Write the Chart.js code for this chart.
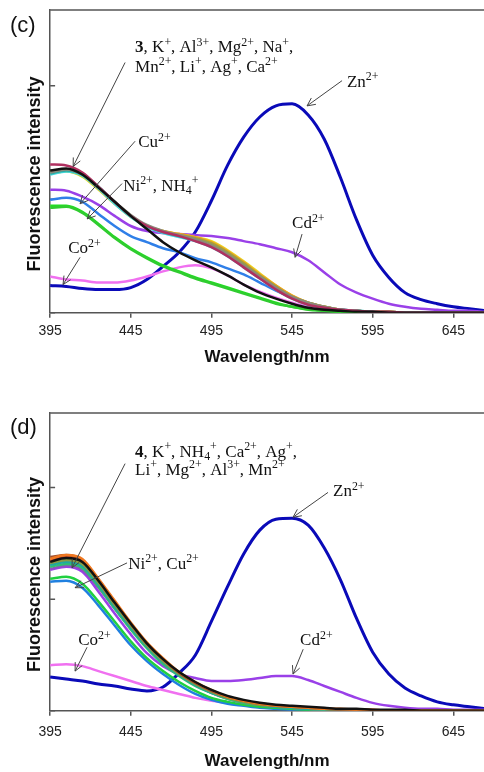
<!DOCTYPE html>
<html>
<head>
<meta charset="utf-8">
<script src="https://cdn.jsdelivr.net/npm/chart.js@4.4.1/dist/chart.umd.min.js"></script>
<style>
  html, body { margin:0; padding:0; background:#fff; overflow:hidden; }
  .panel { position:absolute; left:0; width:484px; }
</style>
</head>
<body>
<div class="panel" style="top:0;height:380px"><canvas id="chartC" width="484" height="380"></canvas></div>
<div class="panel" style="top:380px;height:400px"><canvas id="chartD" width="484" height="400"></canvas></div>
<script>
'use strict';

// wavelength (nm) for every sample, both panels
let wavelengths = [395,405,415,425,435,445,455,465,475,485,495,505,515,525,535,545,555,565,575,585,595,605,615,625,635,645,655,665];
let x_ticks = [395,445,495,545,595,645];

// panel (c), intensity in arbitrary units
let c_3   = [141,143,137,124,110,96,83,70,60,52,45,37,28,20,14,9,5,3,2,1,1,0,0,0,0,0,0,0];
let c_k   = [147,146,139,125,110,96,86,80,76,71,65,56,45,34,23,14,8,5,3,2,1,1,0,0,0,0,0,0];
let c_al  = [139,142,137,124,110,97,87,81,77,73,67,58,47,36,25,16,10,6,3,2,1,1,0,0,0,0,0,0];
let c_mg  = [138,141,137,125,110,96,86,80,76,72,66,57,46,35,24,15,9,5,3,2,1,0,0,0,0,0,0,0];
let c_na  = [137,140,136,123,108,95,85,79,75,71,65,56,45,34,23,14,8,5,3,2,1,0,0,0,0,0,0,0];
let c_mn  = [140,142,137,124,109,96,86,80,77,74,69,60,49,37,26,16,10,6,3,2,1,1,0,0,0,0,0,0];
let c_li  = [139,141,136,123,109,96,86,81,78,75,70,61,50,38,27,17,10,6,3,2,1,1,0,0,0,0,0,0];
let c_ag  = [138,140,135,122,108,95,86,81,78,75,71,62,51,39,27,17,10,6,3,2,1,1,0,0,0,0,0,0];
let c_ca  = [140,142,137,124,110,96,86,80,76,72,66,57,46,35,24,15,9,5,3,2,1,1,0,0,0,0,0,0];
let c_nh4 = [104,105,99,87,74,63,54,46,40,34,29,24,19,14,9,6,3,2,1,0,0,0,0,0,0,0,0,0];
let c_ni  = [106,106,100,88,75,64,55,47,41,35,30,25,20,15,10,6,4,2,1,1,0,0,0,0,0,0,0,0];
let c_cu  = [112,114,110,98,86,76,70,64,60,54,50,44,38,30,22,15,9,6,3,2,1,1,0,0,0,0,0,0];
let c_co  = [36,33,32,30,30,32,36,41,45,47,44,37,28,21,15,10,6,4,3,2,1,1,0,0,0,0,0,0];
let c_cd  = [122,121,115,107,96,86,81,79,78,77,76,74,71,68,64,60,52,40,28,20,14,9,6,4,3,2,2,1];
let c_zn  = [27,26,24,23,23,25,33,46,60,80,111,146,174,194,205,207,196,172,134,92,57,35,20,13,9,6,4,2];

// panel (d)
let d_4   = [150,154,150,131,109,88,68,52,39,29,21,15,11,8,6,5,4,3,2,2,1,1,1,0,0,0,0,0];
let d_k   = [153,157,153,133,111,89,69,53,39,29,21,14,10,7,5,4,3,2,2,1,1,0,0,0,0,0,0,0];
let d_nh4 = [155,157,152,132,110,88,68,52,38,28,20,14,10,7,5,4,3,2,1,1,1,0,0,0,0,0,0,0];
let d_ca  = [149,152,148,129,107,86,66,50,37,27,19,13,9,6,5,4,3,2,1,1,0,0,0,0,0,0,0,0];
let d_ag  = [147,150,146,127,105,84,65,49,36,26,18,13,9,6,4,3,2,2,1,1,0,0,0,0,0,0,0,0];
let d_li  = [145,148,144,125,103,82,63,47,35,25,18,12,8,6,4,3,2,1,1,0,0,0,0,0,0,0,0,0];
let d_mg  = [148,151,147,128,106,85,65,50,37,27,19,13,9,6,5,3,2,2,1,1,0,0,0,0,0,0,0,0];
let d_al  = [151,155,151,131,109,87,67,51,38,28,20,14,10,7,5,4,3,2,1,1,0,0,0,0,0,0,0,0];
let d_mn  = [143,146,142,124,103,83,64,48,36,26,18,12,8,6,4,3,2,1,1,0,0,0,0,0,0,0,0,0];
let d_ni  = [133,135,128,110,90,70,53,40,29,20,13,9,6,4,3,2,1,1,0,0,0,0,0,0,0,0,0,0];
let d_cu  = [130,131,124,106,86,66,50,37,26,17,11,7,5,3,2,1,1,0,0,0,0,0,0,0,0,0,0,0];
let d_co  = [46,47,45,40,35,30,25,21,17,13,10,8,6,4,3,2,2,1,1,0,0,0,0,0,0,0,0,0];
let d_cd  = [142,145,140,120,98,77,58,45,37,33,30,30,31,33,35,35,31,25,19,13,8,5,3,2,2,1,1,1];
let d_zn  = [34,32,30,27,25,22,20,24,38,56,90,125,158,182,193,194,187,164,132,93,59,37,23,15,9,6,4,2];

// labels and arrows, in wavelength / intensity units
let c_notes = [
  {text:'*3*, K^{+}, Al^{3+}, Mg^{2+}, Na^{+},', x:447.7, y:258},
  {text:'Mn^{2+}, Li^{+}, Ag^{+}, Ca^{2+}', x:447.7, y:239},
  {text:'Zn^{2+}', x:579, y:224},
  {text:'Cu^{2+}', x:449.6, y:164},
  {text:'Ni^{2+}, NH_{4}^{+}', x:440.3, y:121},
  {text:'Cd^{2+}', x:545, y:84},
  {text:'Co^{2+}', x:406.2, y:59}
];
let c_arrows = [[441.5,248,409.3,145],[576,230,554.3,205],[447.7,170,413.6,108],[439.6,128,418,93],[551.2,78,546.9,55],[413.6,55,403,28]];

let d_notes = [
  {text:'*4*, K^{+}, NH_{4}^{+}, Ca^{2+}, Ag^{+},', x:447.7, y:256},
  {text:'Li^{+}, Mg^{2+}, Al^{3+}, Mn^{2+}', x:447.7, y:238},
  {text:'Zn^{2+}', x:570.4, y:216},
  {text:'Ni^{2+}, Cu^{2+}', x:443.4, y:143},
  {text:'Co^{2+}', x:412.4, y:66},
  {text:'Cd^{2+}', x:550, y:66}
];
let d_arrows = [[441.5,249,408.6,144],[567.3,220,545.6,195],[442.7,149,410.5,124],[417.9,64,410.5,40],[551.9,62,545.6,37]];


function line_set(name, vals, color, width){
  return {
    label: name,
    data: wavelengths.map((w, i) => ({x: w, y: vals[i]})),
    borderColor: color,
    borderWidth: width || 2.5,
    pointRadius: 0,
    fill: false,
    cubicInterpolationMode: 'monotone'
  };
}

// draws "Zn^{2+}" style strings, *bold* parts too
function draw_rich(ctx, str, x, y, size){
  let parts = str.split(/(\^\{[^}]*\}|_\{[^}]*\}|\*[^*]*\*)/);
  let cx = x;
  for (let p of parts){
    if (!p) continue;
    let fs = size, dy = 0, weight = 'normal', t = p;
    if (p[0] === '^'){ t = p.slice(2, -1); fs = size * 0.7; dy = -size * 0.38; }
    else if (p[0] === '_'){ t = p.slice(2, -1); fs = size * 0.7; dy = size * 0.22; }
    else if (p[0] === '*'){ t = p.slice(1, -1); weight = 'bold'; }
    ctx.font = weight + ' ' + fs + 'px "Liberation Serif", "Times New Roman", serif';
    ctx.fillText(t, cx, y + dy);
    cx += ctx.measureText(t).width;
  }
}

let frame_plugin = {
  id: 'frame',
  beforeDatasetsDraw(chart){
    let ctx = chart.ctx;
    let a = chart.chartArea;
    let ys = chart.scales.y;
    ctx.save();
    ctx.strokeStyle = '#555';
    ctx.lineWidth = 1.5;
    ctx.beginPath();
    ctx.moveTo(a.left, a.top);
    ctx.lineTo(a.right, a.top);
    for (let t of ys.ticks){
      let py = ys.getPixelForValue(t.value);
      ctx.moveTo(a.left, py);
      ctx.lineTo(a.left + 5, py);
    }
    ctx.stroke();
    ctx.restore();
  },
  afterDraw(chart, args, opts){
    let ctx = chart.ctx;
    let xs = chart.scales.x, ys = chart.scales.y;
    ctx.save();
    ctx.fillStyle = '#111';
    ctx.textBaseline = 'alphabetic';
    ctx.font = '22px "Liberation Sans", Arial, sans-serif';
    ctx.fillText(opts.panel, 10, opts.panel_y);
    for (let n of opts.notes){
      draw_rich(ctx, n.text, xs.getPixelForValue(n.x), ys.getPixelForValue(n.y), 17);
    }
    ctx.strokeStyle = '#444';
    ctx.lineWidth = 1;
    for (let ar of opts.arrows){
      let x1 = xs.getPixelForValue(ar[0]), y1 = ys.getPixelForValue(ar[1]);
      let x2 = xs.getPixelForValue(ar[2]), y2 = ys.getPixelForValue(ar[3]);
      let ang = Math.atan2(y2 - y1, x2 - x1);
      ctx.beginPath();
      ctx.moveTo(x1, y1);
      ctx.lineTo(x2, y2);
      ctx.moveTo(x2 - 9 * Math.cos(ang - 0.45), y2 - 9 * Math.sin(ang - 0.45));
      ctx.lineTo(x2, y2);
      ctx.lineTo(x2 - 9 * Math.cos(ang + 0.45), y2 - 9 * Math.sin(ang + 0.45));
      ctx.stroke();
    }
    ctx.restore();
  }
};

function make_chart(canvas_id, sets, pad_top, pad_bottom, tick_pad, extra){
  let ctx = document.getElementById(canvas_id).getContext('2d');
  return new Chart(ctx, {
    type: 'line',
    data: { datasets: sets },
    plugins: [frame_plugin],
    options: {
      responsive: false,
      animation: false,
      layout: { padding: { left: 20.5, right: 0, top: pad_top, bottom: pad_bottom } },
      plugins: {
        legend: { display: false },
        tooltip: { enabled: false },
        frame: extra
      },
      scales: {
        x: {
          type: 'linear',
          min: 395,
          max: 664,
          afterBuildTicks: (s) => { s.ticks = x_ticks.map(v => ({value: v})); },
          ticks: { font: { family: 'Liberation Sans', size: 14 }, color: '#222', padding: tick_pad, maxRotation: 0, autoSkip: false },
          grid: { display: true, drawOnChartArea: false, drawTicks: true, tickLength: 5, color: '#555', lineWidth: 1.5 },
          border: { display: true, color: '#555', width: 1.5 },
          title: { display: true, text: 'Wavelength/nm', color: '#111', font: { family: 'Liberation Sans', size: 17, weight: 'bold' }, padding: { top: 3, bottom: 2 } }
        },
        y: {
          min: 0,
          max: 300,
          afterBuildTicks: (s) => { s.ticks = [{value: 0}, {value: 112.5}, {value: 225}]; },
          ticks: { display: false },
          grid: { display: false, drawTicks: false },
          border: { display: true, color: '#555', width: 1.5 },
          title: { display: true, text: 'Fluorescence intensity     ', color: '#111', font: { family: 'Liberation Sans', size: 18, weight: 'bold' }, padding: { top: 4, bottom: 4 } }
        }
      }
    }
  });
}

let c_sets = [
  line_set('3', c_3, '#111111'),
  line_set('K+', c_k, '#b03060'),
  line_set('Al3+', c_al, '#8a8a7a'),
  line_set('Mg2+', c_mg, '#2aa8a0'),
  line_set('Na+', c_na, '#40d8e0'),
  line_set('Mn2+', c_mn, '#a0a040'),
  line_set('Li+', c_li, '#f0a020'),
  line_set('Ag+', c_ag, '#e8d820'),
  line_set('Ca2+', c_ca, '#70b070'),
  line_set('NH4+', c_nh4, '#30cc30'),
  line_set('Ni2+', c_ni, '#22dd22'),
  line_set('Cu2+', c_cu, '#2f7fe8'),
  line_set('Co2+', c_co, '#f070f0'),
  line_set('Cd2+', c_cd, '#9a40e8'),
  line_set('Zn2+', c_zn, '#0a0ab8', 3)
];

let d_sets = [
  line_set('4', d_4, '#111111'),
  line_set('K+', d_k, '#f07820'),
  line_set('NH4+', d_nh4, '#a05030'),
  line_set('Ca2+', d_ca, '#8a9a40'),
  line_set('Ag+', d_ag, '#20a8a0'),
  line_set('Li+', d_li, '#30c070'),
  line_set('Mg2+', d_mg, '#888888'),
  line_set('Al3+', d_al, '#d04030'),
  line_set('Mn2+', d_mn, '#9050c0'),
  line_set('Ni2+', d_ni, '#20d040'),
  line_set('Cu2+', d_cu, '#2080e0'),
  line_set('Co2+', d_co, '#f070f0'),
  line_set('Cd2+', d_cd, '#9a40e8'),
  line_set('Zn2+', d_zn, '#0a0ab8', 3)
];

make_chart('chartC', c_sets, 10, 10, 5, { panel: '(c)', panel_y: 32, notes: c_notes, arrows: c_arrows });
make_chart('chartD', d_sets, 33, 6, 8, { panel: '(d)', panel_y: 54, notes: d_notes, arrows: d_arrows });
</script>
</body>
</html>
